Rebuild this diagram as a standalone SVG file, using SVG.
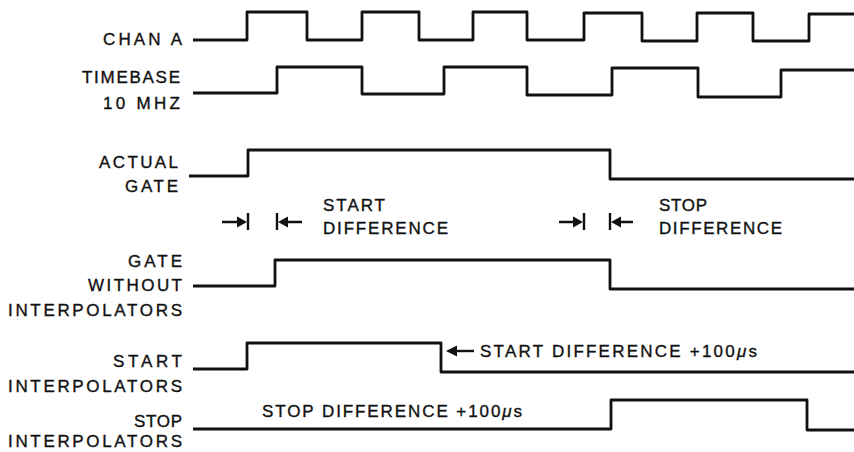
<svg xmlns="http://www.w3.org/2000/svg" width="854" height="452" viewBox="0 0 854 452">
<style>
  .lbl { font-family: "Liberation Sans", Arial, sans-serif; font-size: 17px; fill: #111; stroke: #111; stroke-width: 0.35; }
  .wave { fill: none; stroke: #111; stroke-width: 2.8; stroke-linejoin: round; stroke-linecap: butt; }
  .mk { fill: none; stroke: #111; stroke-width: 2.4; }
  .head { fill: #111; stroke: none; }
</style>
<rect width="854" height="452" fill="#ffffff"/>

<g id="chan-a">
  <text class="lbl" x="103" y="45" textLength="79" lengthAdjust="spacing">CHAN A</text>
  <path class="wave" d="M193,40 H247 V12 H307 V40 H362 V12 H419 V40 H473 V12 H527 V40 H584 V13 H642 V41 H697 V13 H753 V41 H809 V14 H854"/>
</g>

<g id="timebase">
  <text class="lbl" x="82" y="83" textLength="98" lengthAdjust="spacing">TIMEBASE</text>
  <text class="lbl" x="103" y="109" textLength="77" lengthAdjust="spacing">10 MHZ</text>
  <path class="wave" d="M193,93 H277 V67 H362 V94 H444 V67 H527 V95 H612 V68 H698 V97 H781 V70 H854"/>
</g>

<g id="actual-gate">
  <text class="lbl" x="99" y="168" textLength="79" lengthAdjust="spacing">ACTUAL</text>
  <text class="lbl" x="125" y="192" textLength="53" lengthAdjust="spacing">GATE</text>
  <path class="wave" d="M189,176 H248 V150 H610 V179 H854"/>
</g>

<g id="gate-without-interpolators">
  <text class="lbl" x="128" y="267" textLength="54" lengthAdjust="spacing">GATE</text>
  <text class="lbl" x="88" y="291" textLength="94" lengthAdjust="spacing">WITHOUT</text>
  <text class="lbl" x="8" y="316" textLength="174" lengthAdjust="spacing">INTERPOLATORS</text>
  <path class="wave" d="M193,286 H275 V260 H610 V289 H854"/>
</g>

<g id="start-interpolators">
  <text class="lbl" x="113" y="367" textLength="69" lengthAdjust="spacing">START</text>
  <text class="lbl" x="8" y="392" textLength="174" lengthAdjust="spacing">INTERPOLATORS</text>
  <path class="wave" d="M193,369 H247 V343 H441 V372 H854"/>
  <text class="lbl" x="480" y="357" textLength="277" lengthAdjust="spacing">START DIFFERENCE +100<tspan font-style="italic">μ</tspan>s</text>
</g>

<g id="stop-interpolators">
  <text class="lbl" x="134" y="427" textLength="48" lengthAdjust="spacing">STOP</text>
  <text class="lbl" x="8" y="447" textLength="174" lengthAdjust="spacing">INTERPOLATORS</text>
  <path class="wave" d="M193,429 H611 V400 H807 V430 H854"/>
  <text class="lbl" x="262" y="417" textLength="260" lengthAdjust="spacing">STOP DIFFERENCE +100<tspan font-style="italic">μ</tspan>s</text>
</g>

<g id="start-difference">
  <text class="lbl" x="323" y="211" textLength="62" lengthAdjust="spacing">START</text>
  <text class="lbl" x="323" y="234" textLength="125" lengthAdjust="spacing">DIFFERENCE</text>
</g>

<g id="stop-difference">
  <text class="lbl" x="659" y="211" textLength="48" lengthAdjust="spacing">STOP</text>
  <text class="lbl" x="659" y="234" textLength="123" lengthAdjust="spacing">DIFFERENCE</text>
</g>

<g id="connectors">
  <!-- start difference markers -->
  <path class="mk" d="M222,222 H240 M248,213 V230"/>
  <path class="head" d="M247,222 L237,216.5 L237,227.5 Z"/>
  <path class="mk" d="M277,213 V230 M284,222 H302"/>
  <path class="head" d="M278,222 L288,216.5 L288,227.5 Z"/>
  <!-- stop difference markers -->
  <path class="mk" d="M559,222 H576 M584,213 V230"/>
  <path class="head" d="M583,222 L573,216.5 L573,227.5 Z"/>
  <path class="mk" d="M610,213 V230 M617,222 H633"/>
  <path class="head" d="M611,222 L621,216.5 L621,227.5 Z"/>
  <!-- start difference +100us arrow -->
  <path class="mk" d="M452,351 H474"/>
  <path class="head" d="M446,351 L457,345.5 L457,356.5 Z"/>
</g>
</svg>
